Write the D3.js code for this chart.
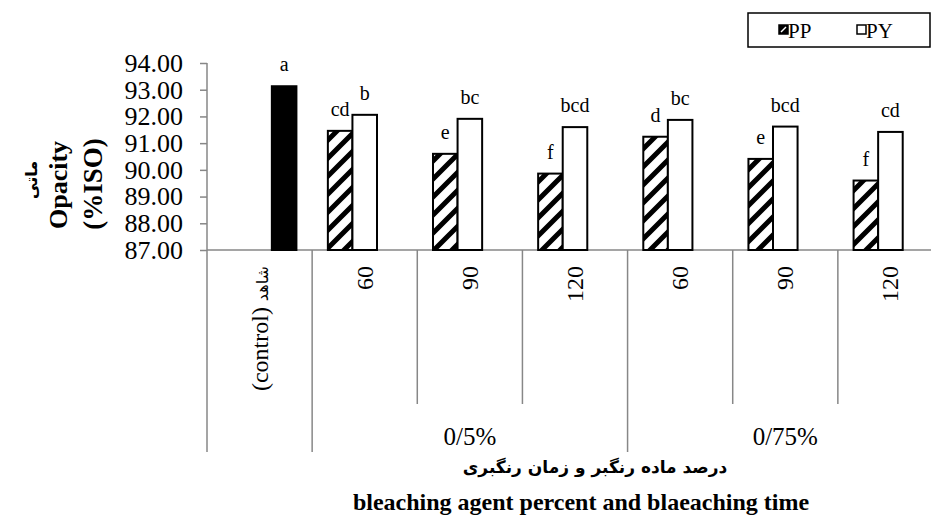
<!DOCTYPE html>
<html lang="en">
<head>
<meta charset="utf-8">
<title>Opacity by bleaching agent percent and time</title>
<script src="https://d3js.org/d3.v7.min.js"></script>
<style>
    body { margin: 0; background: #fff; }
    svg { display: block; }
    text { font-family: 'Liberation Serif', serif; fill: #000; }
    .axis path, .axis line { stroke: #878787; stroke-width: 1.5; }
    .axis text { font-size: 26px; font-family: 'Liberation Serif', serif; }
    .fa { font-family: 'DejaVu Sans', sans-serif; }
    .letter { font-size: 20px; }
</style>
</head>
<body>
<svg width="931" height="517"></svg>
<script>
    // categories along the x axis
    const categories = ['(control) شاهد', '60', '90', '120', '60', '90', '120'];
    const groups = [
        { label: '0/5%', from: 1, to: 3 },
        { label: '0/75%', from: 4, to: 6 }
    ];
    const series = ['PP', 'PY', 'control'];

    // values
    const ppValues = [null, 91.46, 90.60, 89.86, 91.24, 90.41, 89.60];
    const pyValues = [null, 92.06, 91.91, 91.60, 91.87, 91.62, 91.42];
    const controlValues = [93.13, null, null, null, null, null, null];

    // significance letters
    const ppLetters = [null, 'cd', 'e', 'f', 'd', 'e', 'f'];
    const pyLetters = [null, 'b', 'bc', 'bcd', 'bc', 'bcd', 'cd'];
    const controlLetters = ['a', null, null, null, null, null, null];

    const yTicks = [87, 88, 89, 90, 91, 92, 93, 94];

    const svg = d3.select('svg');

    const plotLeft = 207, plotRight = 943, plotTop = 63, plotBottom = 250;

    const x0 = d3.scaleBand().domain(d3.range(categories.length)).range([plotLeft, plotRight]).padding(0);
    const x1 = d3.scaleBand().domain(series).range([0, x0.bandwidth()]).paddingInner(0).paddingOuter(0.64);
    const y = d3.scaleLinear().domain([87, 94]).range([plotBottom, plotTop]);

    // hatch pattern for PP
    const defs = svg.append('defs');
    const pat = defs.append('pattern')
        .attr('id', 'hatch')
        .attr('patternUnits', 'userSpaceOnUse')
        .attr('width', 18).attr('height', 18);
    pat.append('rect').attr('width', 18).attr('height', 18).attr('fill', '#fff');
    pat.append('path')
        .attr('d', 'M-4.5,4.5 L4.5,-4.5 M0,18 L18,0 M13.5,22.5 L22.5,13.5')
        .attr('stroke', '#000').attr('stroke-width', 5);

    // y axis
    svg.append('g')
        .attr('class', 'axis')
        .attr('transform', `translate(${plotLeft},0)`)
        .call(d3.axisLeft(y).tickValues(yTicks).tickSize(7).tickPadding(17).tickFormat(d3.format('.2f')))
        .call(g => g.select('.domain').remove())
        .call(g => g.attr('font-family', null).attr('font-size', null));

    svg.append('line')
        .attr('x1', plotLeft).attr('x2', plotLeft).attr('y1', y(94)).attr('y2', 452)
        .attr('stroke', '#878787').attr('stroke-width', 1.5);

    // x axis line
    svg.append('line')
        .attr('x1', plotLeft).attr('x2', plotRight).attr('y1', plotBottom).attr('y2', plotBottom)
        .attr('stroke', '#878787').attr('stroke-width', 1.5);

    // category separators (multi-level)
    const groupEdges = [1, 4, 7];
    d3.range(1, categories.length + 1).forEach(i => {
        const xx = plotLeft + i * x0.step();
        const long = groupEdges.includes(i);
        svg.append('line')
            .attr('x1', xx).attr('x2', xx)
            .attr('y1', plotBottom).attr('y2', long ? 452 : 404)
            .attr('stroke', '#878787').attr('stroke-width', 1.5);
    });

    // category labels (rotated); Persian part set in a smaller sans font
    const catLabels = svg.append('g').selectAll('text')
        .data(categories)
        .join('text')
        .attr('transform', (d, i) => `translate(${x0(i) + x0.bandwidth() / 2 + 8},266) rotate(-90)`)
        .attr('text-anchor', 'end')
        .attr('font-size', 24);
    catLabels.each(function (d) {
        const parts = d.match(/[\u0600-\u06FF]+|[^\u0600-\u06FF]+/g);
        parts.forEach(p => {
            const t = d3.select(this).append('tspan').text(p);
            if (/[\u0600-\u06FF]/.test(p)) t.attr('class', 'fa').attr('font-size', 16);
        });
    });

    // group labels
    svg.append('g').selectAll('text')
        .data(groups)
        .join('text')
        .attr('x', d => (x0(d.from) + x0(d.to) + x0.bandwidth()) / 2)
        .attr('y', 445)
        .attr('text-anchor', 'middle')
        .attr('font-size', 25)
        .text(d => d.label);

    // bars
    const barData = [];
    categories.forEach((c, i) => {
        if (ppValues[i] != null) barData.push({ i, s: 'PP', v: ppValues[i], l: ppLetters[i] });
        if (pyValues[i] != null) barData.push({ i, s: 'PY', v: pyValues[i], l: pyLetters[i] });
        if (controlValues[i] != null) barData.push({ i, s: 'control', v: controlValues[i], l: controlLetters[i] });
    });

    const fills = { PP: 'url(#hatch)', PY: '#fff', control: '#000' };

    svg.append('g').selectAll('rect')
        .data(barData)
        .join('rect')
        .attr('x', d => x0(d.i) + x1(d.s))
        .attr('y', d => y(d.v))
        .attr('width', x1.bandwidth())
        .attr('height', d => y(87) - y(d.v))
        .attr('fill', d => fills[d.s])
        .attr('stroke', '#000')
        .attr('stroke-width', 2);

    svg.append('g').selectAll('text')
        .data(barData)
        .join('text')
        .attr('class', 'letter')
        .attr('x', d => x0(d.i) + x1(d.s) + x1.bandwidth() / 2)
        .attr('y', d => y(d.v) - 15)
        .attr('text-anchor', 'middle')
        .text(d => d.l);

    // y axis titles
    svg.append('text')
        .attr('class', 'fa')
        .attr('transform', 'translate(37,180) rotate(-90)')
        .attr('text-anchor', 'middle')
        .attr('font-size', 16)
        .attr('font-weight', 'bold')
        .text('ماتی');

    svg.append('text')
        .attr('transform', 'translate(67,185) rotate(-90)')
        .attr('text-anchor', 'middle')
        .attr('font-size', 26)
        .attr('font-weight', 'bold')
        .text('Opacity');

    svg.append('text')
        .attr('transform', 'translate(102,184) rotate(-90)')
        .attr('text-anchor', 'middle')
        .attr('font-size', 27)
        .attr('font-weight', 'bold')
        .text('(%ISO)');

    // x axis titles
    svg.append('text')
        .attr('class', 'fa')
        .attr('x', 595).attr('y', 473)
        .attr('text-anchor', 'middle')
        .attr('font-size', 17)
        .attr('font-weight', 'bold')
        .text('درصد ماده رنگبر و زمان رنگبری');

    svg.append('text')
        .attr('x', 581).attr('y', 510)
        .attr('text-anchor', 'middle')
        .attr('font-size', 24)
        .attr('font-weight', 'bold')
        .text('bleaching agent percent and blaeaching time');

    // legend
    const legend = svg.append('g');
    legend.append('rect')
        .attr('x', 748).attr('y', 13).attr('width', 182).attr('height', 34)
        .attr('fill', '#fff').attr('stroke', '#000').attr('stroke-width', 1.5);
    const legendItems = [{ s: 'PP', x: 779 }, { s: 'PY', x: 857 }];
    legend.selectAll('rect.sw')
        .data(legendItems)
        .join('rect')
        .attr('class', 'sw')
        .attr('x', d => d.x).attr('y', 25).attr('width', 9).attr('height', 9)
        .attr('fill', d => d.s === 'PP' ? '#000' : '#fff')
        .attr('stroke', '#000').attr('stroke-width', 1.5);
    // white diagonal in the PP swatch
    legend.append('line')
        .attr('x1', 781).attr('y1', 32).attr('x2', 786).attr('y2', 27)
        .attr('stroke', '#fff').attr('stroke-width', 1.5);
    legend.selectAll('text')
        .data(legendItems)
        .join('text')
        .attr('x', d => d.x + 9).attr('y', 38)
        .attr('font-size', 21)
        .text(d => d.s);
</script>
</body>
</html>
